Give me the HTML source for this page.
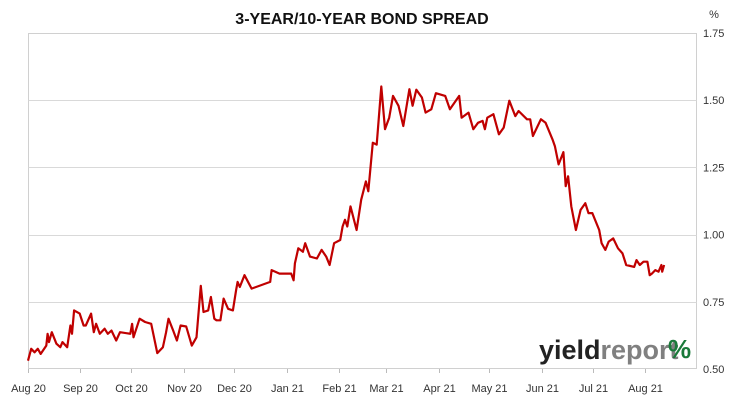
<!DOCTYPE html>
<html><head><meta charset="utf-8"><style>
body{margin:0;background:#fff;font-family:"Liberation Sans",sans-serif;}
svg text{font-family:"Liberation Sans Narrow","Liberation Sans",sans-serif;}
</style></head><body>
<svg id="chart" width="731" height="400" viewBox="0 0 731 400" xmlns="http://www.w3.org/2000/svg">
<rect width="731" height="400" fill="#fff"/>
<text x="362" y="24" text-anchor="middle" font-size="16" font-weight="bold" fill="#111">3-YEAR/10-YEAR BOND SPREAD</text>
<text x="714" y="18" text-anchor="middle" font-size="11" fill="#333">%</text>
<rect x="28.5" y="33.5" width="668" height="335" fill="none" stroke="#d0d0d0"/>
<g id="grid"></g><g id="xaxis"></g><g id="yaxis"></g>
<path id="line" fill="none" stroke="#c00000" stroke-width="2.2" stroke-linejoin="round"/>
<g>
<text x="539" y="359" font-size="27" font-weight="bold" fill="#222">yield<tspan fill="#808080">report</tspan></text>
<text x="668" y="358" font-size="26" font-weight="bold" fill="#1a7a3a">%</text>
</g>
</svg>
<script>
const days=[0,1.9,3.9,5.8,7.5,10.8,11.6,12.4,14.1,16.8,19.1,20.4,23.2,25.1,26,27.3,30.6,32.9,34.2,37.3,38.9,40.3,42.5,45.3,47.2,49.4,52.2,54.4,60.5,61.6,62.4,66,69.3,72.9,76.5,79.8,81.7,83.1,85.9,88.1,90.3,93.6,96.9,99.7,102.2,103.8,106.6,108.2,110.2,111.5,113.8,115.7,118.4,121.2,123.1,124,125.3,128.1,132.3,143.3,144.1,148.8,155.7,157.1,157.9,159.9,162.6,164,166.8,170.9,173.7,176.4,178.4,181.1,184.7,186.1,187.5,188.9,190.8,194.4,197.1,199.9,201.3,204,206.3,209,211.2,213.7,215.9,219.2,222,225.6,227.5,229.7,233,235.2,238.6,241.3,246.8,249.6,255.1,256.5,260.6,263.4,266.2,268.9,270.3,271.7,275.3,278.6,281.4,284.7,288.3,290.2,295.2,297.1,298.7,303.4,306.2,310.3,311.7,313.9,316.7,318.1,319.5,321.4,324.1,326.9,329.7,331.6,333.8,337.9,339.3,341.5,343.5,346.2,349,351.7,353.9,358.6,360,361.9,364.1,366.4,367.8,369.1,371.1,373,374.7,375.2,376.3];
const spread=[0.531,0.575,0.562,0.575,0.556,0.587,0.631,0.6,0.637,0.594,0.581,0.6,0.581,0.662,0.631,0.718,0.706,0.662,0.662,0.706,0.637,0.668,0.631,0.65,0.631,0.643,0.606,0.637,0.631,0.668,0.618,0.687,0.675,0.668,0.559,0.581,0.637,0.687,0.643,0.606,0.662,0.658,0.587,0.618,0.809,0.712,0.718,0.768,0.687,0.681,0.681,0.762,0.724,0.718,0.793,0.824,0.805,0.849,0.799,0.824,0.868,0.855,0.855,0.83,0.893,0.949,0.936,0.968,0.918,0.911,0.943,0.918,0.887,0.968,0.98,1.03,1.055,1.03,1.105,1.017,1.13,1.198,1.161,1.342,1.335,1.551,1.392,1.435,1.516,1.479,1.404,1.541,1.479,1.539,1.51,1.454,1.466,1.526,1.516,1.466,1.516,1.435,1.454,1.392,1.416,1.423,1.392,1.435,1.448,1.373,1.398,1.498,1.441,1.46,1.429,1.429,1.367,1.429,1.416,1.354,1.329,1.261,1.307,1.18,1.217,1.105,1.017,1.092,1.117,1.08,1.08,1.017,0.968,0.943,0.974,0.986,0.949,0.93,0.887,0.88,0.905,0.887,0.899,0.899,0.849,0.855,0.868,0.862,0.887,0.862,0.887];
const monthLabels=["Aug 20","Sep 20","Oct 20","Nov 20","Dec 20","Jan 21","Feb 21","Mar 21","Apr 21","May 21","Jun 21","Jul 21","Aug 21"];
const monthDays=[0,31,61,92,122,153,184,212,243,273,304,334,365];
const yTicks=[0.5,0.75,1.0,1.25,1.5,1.75];
const NS="http://www.w3.org/2000/svg";
const xs=d=>28+d*(645-28)/365;
const ys=v=>369-(v-0.5)*(336/1.25);
const grid=document.getElementById('grid'),xa=document.getElementById('xaxis'),ya=document.getElementById('yaxis');
yTicks.forEach(t=>{
  if(t>0.5&&t<1.75){
    const l=document.createElementNS(NS,'line');
    
    
    l.setAttribute('x1',28.5);l.setAttribute('x2',696.5);
    const y=Math.round(ys(t))+0.5;l.setAttribute('y1',y);l.setAttribute('y2',y);
    l.setAttribute('stroke','#d9d9d9');grid.appendChild(l);
  }
  const tx=document.createElementNS(NS,'text');
  
  
  tx.setAttribute('x',703);tx.setAttribute('y',ys(t)+4);tx.setAttribute('font-size','11');tx.setAttribute('fill','#333');
  tx.textContent=t.toFixed(2);ya.appendChild(tx);
});
monthDays.forEach((d,i)=>{
  const x=Math.round(xs(d))+0.5;
  const l=document.createElementNS(NS,'line');
  
  
  l.setAttribute('x1',x);l.setAttribute('x2',x);l.setAttribute('y1',369);l.setAttribute('y2',373);
  l.setAttribute('stroke','#bbb');xa.appendChild(l);
  const tx=document.createElementNS(NS,'text');
  
  
  tx.setAttribute('x',x);tx.setAttribute('y',392);tx.setAttribute('text-anchor','middle');tx.setAttribute('font-size','11');tx.setAttribute('fill','#333');
  tx.textContent=monthLabels[i];xa.appendChild(tx);
});
document.getElementById('line').setAttribute('d',days.map((d,i)=>(i?'L':'M')+xs(d).toFixed(1)+','+ys(spread[i]).toFixed(1)).join(''));
</script>
</body></html>
